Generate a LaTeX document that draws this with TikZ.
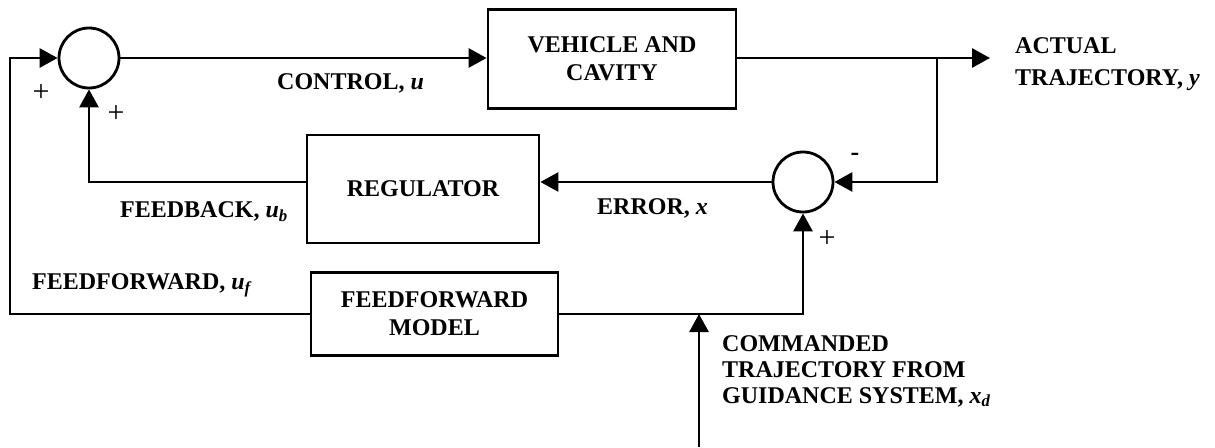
\documentclass[tikz,border=0pt]{standalone}
\usepackage{fontspec}
\setmainfont{Liberation Serif}
\usetikzlibrary{arrows.meta}
\tikzset{
  wire/.style={line width=2.8pt, line join=miter},
  sig/.style={wire, -{Triangle[length=18pt,width=19pt]}},
  block/.style={draw, line width=2.8pt, font=\lbl, align=center, inner sep=0pt},
  summer/.style={draw, circle, line width=2.8pt, minimum size=60pt, inner sep=0pt},
  tag/.style={font=\lbl, inner sep=0pt},
  sign/.style={font=\fontsize{30}{30}\selectfont, inner sep=0pt},
}
\newcommand{\lbl}{\fontsize{24}{28}\selectfont\bfseries}
\begin{document}
\begin{tikzpicture}[x=1pt, y=-1pt]
  \useasboundingbox (0,0) rectangle (1215,447);

  % summing junctions
  \node[summer] (s1) at (89,58) {};
  \node[summer] (s2) at (803,182) {};

  % blocks
  \node[block, minimum width=248pt, minimum height=99pt] (veh) at (612,59) {VEHICLE AND\\CAVITY};
  \node[block, minimum width=232pt, minimum height=108pt] (reg) at (423,189) {REGULATOR};
  \node[block, minimum width=247pt, minimum height=83pt] (ffm) at (434.5,314) {FEEDFORWARD\\MODEL};

  % routing points
  \coordinate (tap) at (937,58);
  \coordinate (tapd) at (937,182);
  \coordinate (yout) at (990,58);
  \coordinate (fbk) at (89,182);
  \coordinate (ffl) at (10,314);
  \coordinate (ffu) at (10,58);
  \coordinate (ffr) at (803,314);
  \coordinate (cmdin) at (699,447);
  \coordinate (cmdtip) at (699,314);

  % forward path
  \draw[sig] (s1.east) -- (s1.east -| veh.west);
  \draw[sig] (veh.east |- tap) -- (yout);
  \draw[sig] (tap) -- (tapd) -- (s2.east);
  \draw[sig] (s2.west) -- (s2.west -| reg.east);
  \draw[sig] (reg.west |- fbk) -- (fbk) -- (s1.south);
  \draw[sig] (ffm.west |- ffl) -- (ffl) -- (ffu) -- (s1.west);
  \draw[sig] (ffm.east |- ffr) -- (ffr) -- (s2.south);
  \draw[sig] (cmdin) -- (cmdtip);

  % signal labels
  \node[tag, anchor=west] (lctl) at (277,83) {CONTROL, \textit{u}};
  \node[tag, anchor=west, align=left, font=\fontsize{24}{32}\selectfont\bfseries] (lact) at (1015,64) {ACTUAL\\TRAJECTORY, \textit{y}};
  \node[tag, anchor=west] (lfb) at (120,212) {FEEDBACK, \textit{u\textsubscript{b}}};
  \node[tag, anchor=west] (lerr) at (597,208) {ERROR, \textit{x}};
  \node[tag, anchor=west] (lff) at (32,285) {FEEDFORWARD, \textit{u\textsubscript{f}}};
  \node[tag, anchor=west, align=left, font=\fontsize{24}{26}\selectfont\bfseries] (lcmd) at (722,371) {COMMANDED\\TRAJECTORY FROM\\GUIDANCE SYSTEM, \textit{x\textsubscript{d}}};

  % signs at the junctions
  \node[sign] (p1) at (41,93) {+};
  \node[sign] (p2) at (116,114) {+};
  \node[sign] (p3) at (827,239) {+};
  \node[sign, font=\fontsize{26}{26}\selectfont\bfseries] (m2) at (855,157) {-};
\end{tikzpicture}
\end{document}
